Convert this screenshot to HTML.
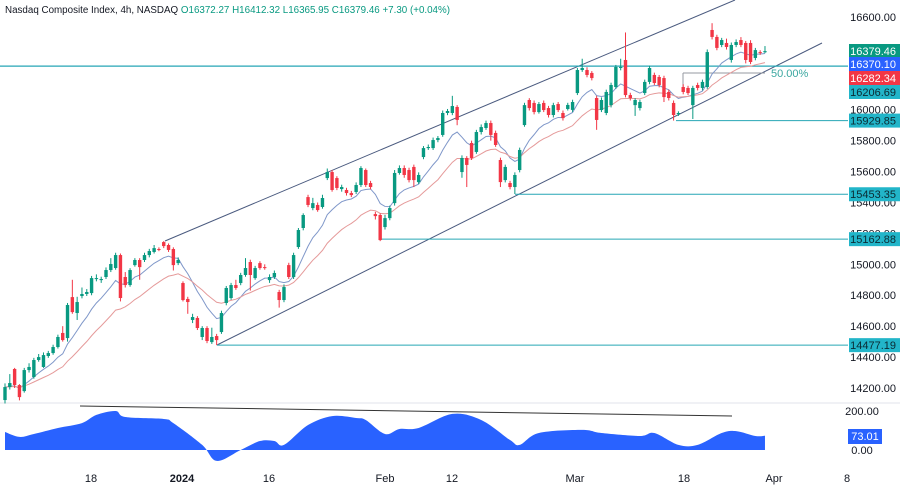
<!DOCTYPE html>
<html><head><meta charset="utf-8"><style>
html,body{margin:0;padding:0;background:#fff;}
body{width:900px;height:487px;overflow:hidden;font-family:"Liberation Sans",sans-serif;}
svg text{font-family:"Liberation Sans",sans-serif;}
</style></head><body>
<svg id="chart" width="900" height="487" viewBox="0 0 900 487" xmlns="http://www.w3.org/2000/svg">
<rect x="0" y="0" width="900" height="487" fill="#fff"/>
<text x="5" y="13" font-size="9.8" fill="#131722">Nasdaq Composite Index, 4h, NASDAQ <tspan fill="#089981">O16372.27 H16412.32 L16365.95 C16379.46 +7.30 (+0.04%)</tspan></text>
<g id="grid"></g>
<g id="drawings"></g>
<g id="ma"></g>
<g id="candles"></g>
<g id="yaxis"></g>
<g id="osc"></g>
<g id="xaxis"></g>
</svg>
<script>
const opens=[14122,14206,14323,14219,14180,14316,14271,14381,14336,14407,14426,14465,14556,14523,14788,14685,14795,14808,14814,14905,14898,14918,14963,14976,15060,14918,14866,14995,15028,15028,15060,15080,15099,15144,15125,15099,15008,14879,14776,14640,14653,14530,14588,14497,14536,14562,14750,14782,14866,14879,14931,15015,14911,15008,14982,14898,14918,14821,14769,14995,14918,15112,15235,15435,15364,15384,15371,15558,15597,15558,15487,15481,15461,15468,15513,15610,15526,15325,15319,15241,15299,15396,15591,15623,15610,15630,15532,15694,15752,15752,15804,15837,15979,15979,16018,15597,15688,15785,15727,15856,15882,15914,15850,15675,15545,15526,15500,15610,15901,16063,16044,15985,16044,16011,15966,16037,15979,16005,15999,16108,16257,16257,16238,16076,15998,15979,16030,16147,16270,16322,16095,16030,16011,16108,16180,16225,16212,16205,16115,16044,15972,16147,16141,16030,16160,16141,16147,16516,16471,16419,16432,16322,16419,16451,16432,16432,16335,16373,16372];
const closes=[14206,14232,14219,14141,14316,14336,14381,14400,14413,14426,14465,14530,14510,14737,14691,14756,14808,14821,14911,14911,14905,14963,15002,15060,14782,14866,14963,15028,14982,15060,15086,15105,15095,15118,15093,14995,15028,14769,14756,14659,14588,14588,14504,14530,14510,14685,14847,14866,14847,14931,14976,14931,14976,14976,14979,14918,14944,14769,14853,14918,15060,15222,15319,15384,15396,15351,15429,15597,15481,15494,15500,15461,15448,15513,15623,15513,15500,15312,15157,15299,15364,15591,15623,15578,15545,15545,15578,15752,15759,15804,15817,15979,15992,16024,15934,15688,15643,15688,15856,15888,15914,15837,15772,15532,15630,15500,15578,15740,16030,16011,15985,16037,15998,15966,16030,15998,15946,16031,16050,16257,16270,16225,16205,15934,16063,16115,16160,16277,16277,16095,16076,16063,16050,16180,16270,16173,16160,16082,16076,15966,15979,16115,16108,16141,16141,16180,16373,16471,16400,16451,16406,16419,16438,16419,16322,16309,16386,16367,16379];
const highs=[14230,14290,14330,14225,14330,14360,14395,14420,14430,14440,14480,14545,14600,14750,14900,14790,14850,14840,14925,14935,14920,14980,15040,15075,15070,14950,14975,15040,15040,15075,15100,15125,15110,15150,15135,15110,15045,14890,14790,14680,14665,14600,14600,14590,14550,14700,14860,14880,14900,14945,15040,15030,14990,15020,15000,14935,14960,14835,14870,15010,15075,15235,15330,15450,15430,15400,15450,15620,15610,15570,15515,15495,15475,15530,15635,15620,15540,15340,15330,15320,15380,15610,15640,15640,15625,15645,15595,15765,15775,15820,15830,15995,16005,16090,16030,15705,15700,15800,15870,15905,15930,15930,15865,15690,15645,15540,15595,15755,16045,16075,16060,16050,16060,16025,16045,16050,15995,16045,16065,16270,16330,16275,16250,16090,16080,16130,16175,16290,16330,16500,16110,16075,16065,16195,16285,16240,16225,16220,16130,16060,15990,16165,16155,16155,16175,16195,16390,16560,16485,16465,16460,16435,16455,16470,16445,16450,16400,16385,16412];
const lows=[14100,14190,14200,14120,14170,14300,14260,14370,14330,14395,14415,14455,14500,14500,14680,14640,14780,14795,14800,14890,14880,14905,14950,14965,14760,14850,14855,14985,14900,15015,15045,15070,15085,15105,15080,14960,14995,14760,14680,14620,14575,14510,14490,14485,14477,14550,14735,14770,14835,14865,14920,14830,14900,14965,14965,14880,14905,14720,14755,14905,14905,15100,15220,15370,15350,15340,15360,15545,15470,15480,15470,15445,15435,15455,15500,15500,15485,15290,15150,15225,15285,15380,15580,15560,15530,15500,15520,15680,15740,15740,15790,15825,15965,15965,15900,15560,15500,15675,15715,15840,15870,15800,15760,15500,15530,15485,15455,15595,15890,15995,15970,15975,15985,15950,15950,15985,15930,15995,15985,16095,16245,16210,16190,15870,15985,15965,16015,16135,16255,16080,16060,15960,15995,16095,16165,16160,16145,16050,16060,15930,15960,16100,16095,15940,16125,16125,16135,16455,16385,16405,16390,16305,16405,16405,16300,16295,16320,16355,16366];
const priceTicks=[16600,16000,15800,15600,15400,15200,15000,14800,14600,14400,14200];
const levelValues=[14477.19,15162.88,15453.35,15929.85];
const oscIdx=[0,3,6,11,16,19,23,25,33,35,41,44,49,53,56,58,63,68,73,75,79,82,86,93,99,105,107,111,120,124,132,135,140,144,149,152,156,158];
const oscVals=[92,67,82,113,138,180,200,169,159,138,26,-56,0,46,46,26,128,174,164,154,82,108,113,185,154,51,26,87,103,87,72,87,26,26,87,97,72,73];
const xLabels=["18","2024","16","Feb","12","Mar","18","Apr","8"];
const xLabelPos=[91,182,269,385,452,575,684,774,847];

const NS="http://www.w3.org/2000/svg";
const PLOT_R=848;
const yP=p=>17+(16600-p)*0.15458;
const xI=i=>5+i*4.81;
const yO=v=>450-v*0.195;
function mk(tag,attrs,parent){const e=document.createElementNS(NS,tag);for(const k in attrs)e.setAttribute(k,attrs[k]);parent.appendChild(e);return e;}

const grid=document.getElementById('grid');
let sep=mk('line',{x1:0,x2:900,y1:403,y2:403,stroke:'#e0e3eb','stroke-width':1},grid);



const dr=document.getElementById('drawings');
let up=mk('line',{x1:165,y1:241,x2:735,y2:0,stroke:'#4a5a7f','stroke-width':1},dr);


let lo=mk('line',{x1:217,y1:345,x2:822,y2:43,stroke:'#4a5a7f','stroke-width':1},dr);


const levelStart=[217,380,515,676];
levelValues.forEach((v,k)=>{
  const l=mk('line',{x1:levelStart[k],x2:PLOT_R,y1:yP(v),y2:yP(v),stroke:'#26a6b5','stroke-width':1},dr);
  
  
});
let res=mk('line',{x1:0,x2:PLOT_R,y1:yP(16282.34),y2:yP(16282.34),stroke:'#26a6b5','stroke-width':1.3},dr);


let fib=mk('line',{x1:683,x2:765,y1:73,y2:73,stroke:'#9598a1','stroke-width':1},dr);


let fibv=mk('line',{x1:683,x2:683,y1:73,y2:90,stroke:'#9598a1','stroke-width':1},dr);


let ft=mk('text',{x:771,y:77,'font-size':11,fill:'#3ba7a0'},dr);ft.textContent='50.00%';



function ema(arr,n){const k=2/(n+1);let out=[];let e=arr[0];arr.forEach((v,i)=>{e=i?v*k+e*(1-k):v;out.push(e);});return out;}
const ma=document.getElementById('ma');
[[9,'#7f97c9'],[21,'#e59a9a']].forEach(([n,c])=>{
  const m=ema(closes,n);
  const p=mk('polyline',{points:m.map((v,i)=>xI(i)+','+yP(v)).join(' '),fill:'none',stroke:c,'stroke-width':1},ma);
  
  
});

const cg=document.getElementById('candles');
closes.forEach((c,i)=>{
  const o=opens[i],col=c>=o?'#089981':'#f23645';
  const g=mk('g',{},cg);
  
  
  const x=xI(i);
  mk('line',{x1:x,x2:x,y1:yP(highs[i]),y2:yP(lows[i]),stroke:col,'stroke-width':1},g);
  const t=yP(Math.max(o,c)),b=yP(Math.min(o,c));
  mk('rect',{x:x-1.7,y:t,width:3.4,height:Math.max(1,b-t),fill:col},g);
});

const ya=document.getElementById('yaxis');
priceTicks.forEach(p=>{
  const t=mk('text',{x:896,y:yP(p)+4,'font-size':11,fill:'#131722','text-anchor':'end'},ya);
  t.textContent=p.toFixed(2);
  
  
});
const tagVals=[16379.46,16370.10,16282.34,16206.69,15929.85,15453.35,15162.88,14477.19];
const tagCols=['#089981','#2962ff','#f23645','#22b5c9','#22b5c9','#22b5c9','#22b5c9','#22b5c9'];
const tagY=[51,64,78,92];
tagVals.forEach((v,k)=>{
  const yy=k<4?tagY[k]:yP(v);
  const g=mk('g',{},ya);
  
  
  mk('rect',{x:849,y:yy-7,width:51,height:14,fill:tagCols[k]},g);
  const t=mk('text',{x:896,y:yy+4,'font-size':11,fill:k<3?'#fff':'#0b2a33','text-anchor':'end'},g);
  t.textContent=v.toFixed(2);
});

// oscillator (smoothed)
const og=document.getElementById('osc');
const P=oscIdx.map((ix,k)=>[xI(ix),yO(oscVals[k])]);
let d='M'+P[0][0]+','+yO(0)+' L'+P[0][0]+','+P[0][1];
for(let i=0;i<P.length-1;i++){
  const p0=P[Math.max(0,i-1)],p1=P[i],p2=P[i+1],p3=P[Math.min(P.length-1,i+2)];
  const c1=[p1[0]+(p2[0]-p0[0])/6,p1[1]+(p2[1]-p0[1])/6];
  const c2=[p2[0]-(p3[0]-p1[0])/6,p2[1]-(p3[1]-p1[1])/6];
  d+=' C'+c1[0]+','+c1[1]+' '+c2[0]+','+c2[1]+' '+p2[0]+','+p2[1];
}
d+=' L'+P[P.length-1][0]+','+yO(0)+' Z';
let area=mk('path',{d:d,fill:'#2962ff'},og);


let div=mk('line',{x1:80,y1:406,x2:732,y2:416,stroke:'#333','stroke-width':1},og);


[[200,'200.00'],[0,'0.00']].forEach(([v,s])=>{
  const t=mk('text',{x:862,y:yO(v)+4,'font-size':11,fill:'#131722','text-anchor':'middle'},og);t.textContent=s;
  
  
});
let ob=mk('rect',{x:848,y:429,width:34,height:15,fill:'#2962ff'},og);


let ot=mk('text',{x:865,y:440,'font-size':11,fill:'#fff','text-anchor':'middle'},og);ot.textContent='73.01';

const xa=document.getElementById('xaxis');
xLabels.forEach((s,k)=>{
  const t=mk('text',{x:xLabelPos[k],y:482,'font-size':11,fill:'#131722','text-anchor':'middle','font-weight':s==='2024'?'bold':'normal'},xa);
  t.textContent=s;
  
  
});
</script>
</body></html>
